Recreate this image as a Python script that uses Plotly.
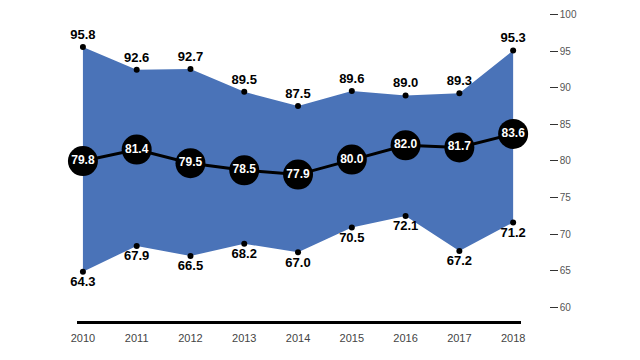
import plotly.graph_objects as go

years = [2010, 2011, 2012, 2013, 2014, 2015, 2016, 2017, 2018]
upper = [95.8, 92.6, 92.7, 89.5, 87.5, 89.6, 89.0, 89.3, 95.3]
mean = [79.8, 81.4, 79.5, 78.5, 77.9, 80.0, 82.0, 81.7, 83.6]
lower = [64.3, 67.9, 66.5, 68.2, 67.0, 70.5, 72.1, 67.2, 71.2]
y_ticks = [60, 65, 70, 75, 80, 85, 90, 95, 100]

FONT = "Liberation Sans, Arial, sans-serif"
BLUE = "#4a73b8"

fig = go.Figure()
fig.add_trace(go.Scatter(
    x=years, y=lower, mode="lines", line=dict(width=0, color=BLUE),
    showlegend=False, hoverinfo="skip"))
fig.add_trace(go.Scatter(
    x=years, y=upper, mode="lines", fill="tonexty", fillcolor=BLUE,
    line=dict(width=0, color=BLUE),
    showlegend=False, hoverinfo="skip"))
fig.add_trace(go.Scatter(
    x=years, y=upper, mode="markers+text",
    marker=dict(size=6, color="black"),
    text=[f"{v:.1f}" for v in upper], textposition="top center",
    textfont=dict(family=FONT, size=13, color="black", weight="bold"),
    cliponaxis=False, showlegend=False, hoverinfo="skip"))
fig.add_trace(go.Scatter(
    x=years, y=lower, mode="markers+text",
    marker=dict(size=6, color="black"),
    text=[f"{v:.1f}" for v in lower], textposition="bottom center",
    textfont=dict(family=FONT, size=13, color="black", weight="bold"),
    cliponaxis=False, showlegend=False, hoverinfo="skip"))
fig.add_trace(go.Scatter(
    x=years, y=mean, mode="lines+markers+text",
    line=dict(color="black", width=3),
    marker=dict(size=30, color="black"),
    text=[f"{v:.1f}" for v in mean], textposition="middle center",
    textfont=dict(family=FONT, size=12, color="white", weight="bold"),
    cliponaxis=False, showlegend=False, hoverinfo="skip"))
# invisible trace to carry the tick axis
fig.add_trace(go.Scatter(x=[years[0]], y=[80], yaxis="y2", mode="markers",
                         marker=dict(opacity=0), showlegend=False, hoverinfo="skip"))

fig.update_layout(
    template="none",
    width=640, height=360,
    font=dict(family=FONT, color="#444"),
    margin=dict(l=77, r=0, t=6, b=39),
    paper_bgcolor="white", plot_bgcolor="white",
    xaxis=dict(domain=[0, 0.789], range=[2009.89, 2018.15], automargin=False,
               tickmode="array", tickvals=years, ticktext=[str(y) for y in years],
               showline=True, linecolor="black", linewidth=3,
               showgrid=False, zeroline=False,
               ticks="outside", ticklen=5, tickcolor="rgba(0,0,0,0)",
               tickfont=dict(family=FONT, size=11, color="#444")),
    yaxis=dict(range=[57.38, 101.53], visible=False, showgrid=False, zeroline=False,
               automargin=False),
    yaxis2=dict(range=[58.15, 101.16], overlaying="y", anchor="free", position=0.838,
                side="right", tickmode="array", tickvals=y_ticks, automargin=False,
                ticks="outside", ticklen=8, tickcolor="#333", tickwidth=1,
                showline=False, showgrid=False, zeroline=False,
                tickfont=dict(family=FONT, size=10, color="#555")),
)

fig.write_html("out.html", config={"displayModeBar": False},
               post_script="document.body.style.margin='0';")
